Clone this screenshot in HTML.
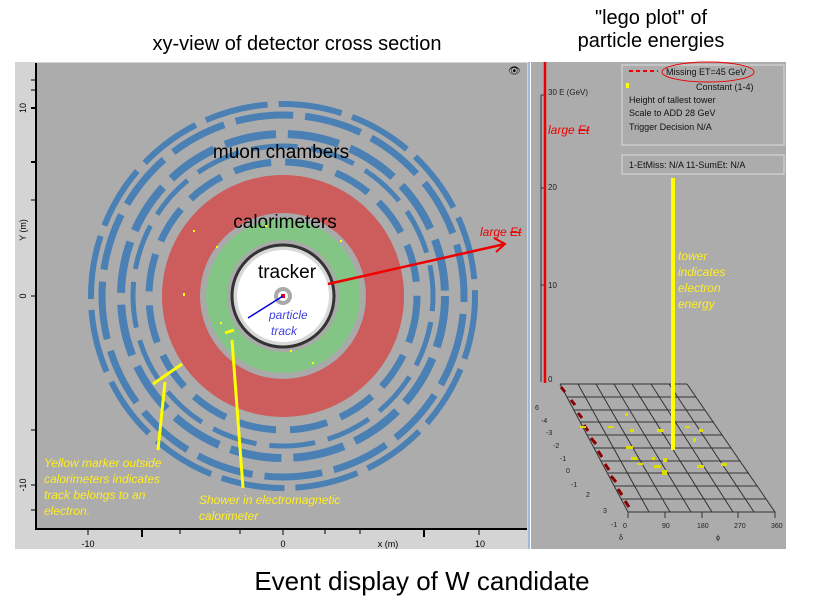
<!DOCTYPE html>
<html><head><style>
html,body{margin:0;padding:0;background:#fff;width:814px;height:604px;overflow:hidden}
svg text{font-family:"Liberation Sans",sans-serif}
</style></head><body>
<svg width="814" height="604" viewBox="0 0 814 604" xmlns="http://www.w3.org/2000/svg">
<text x="297" y="50" font-size="20" text-anchor="middle">xy-view of detector cross section</text>
<text x="651" y="24" font-size="20" text-anchor="middle">"lego plot" of</text>
<text x="651" y="47" font-size="20" text-anchor="middle">particle energies</text>
<text x="422" y="590" font-size="26" text-anchor="middle">Event display of W candidate</text>

<!-- left panel -->
<rect x="15" y="62" width="514" height="487" fill="#d4d4d4"/>
<rect x="36" y="63" width="491" height="466" fill="#acacac"/>
<line x1="36" y1="63" x2="36" y2="530" stroke="#000" stroke-width="2"/>
<line x1="36" y1="529" x2="527" y2="529" stroke="#000" stroke-width="2"/>
<g stroke="#000" stroke-width="1">
<line x1="31" y1="108" x2="36" y2="108" stroke-width="2"/><line x1="31" y1="162" x2="36" y2="162" stroke-width="2"/>
<line x1="31" y1="200" x2="36" y2="200"/><line x1="31" y1="296" x2="36" y2="296"/>
<line x1="31" y1="430" x2="36" y2="430"/><line x1="31" y1="485" x2="36" y2="485"/>
<line x1="31" y1="80" x2="36" y2="80"/><line x1="31" y1="90" x2="36" y2="90"/><line x1="31" y1="510" x2="36" y2="510"/>
<line x1="88" y1="529" x2="88" y2="535"/><line x1="142" y1="529" x2="142" y2="537" stroke-width="2"/>
<line x1="283" y1="529" x2="283" y2="535"/><line x1="424" y1="529" x2="424" y2="537" stroke-width="2"/>
<line x1="479" y1="529" x2="479" y2="535"/><line x1="325" y1="529" x2="325" y2="534"/><line x1="360" y1="529" x2="360" y2="534"/>
<line x1="240" y1="529" x2="240" y2="534"/><line x1="180" y1="529" x2="180" y2="534"/>
</g>
<g font-size="9" fill="#000">
<text x="26" y="108" transform="rotate(-90 26 108)" text-anchor="middle">10</text>
<text x="26" y="296" transform="rotate(-90 26 296)" text-anchor="middle">0</text>
<text x="26" y="230" transform="rotate(-90 26 230)" text-anchor="middle">Y (m)</text>
<text x="26" y="485" transform="rotate(-90 26 485)" text-anchor="middle">-10</text>
<text x="88" y="547" text-anchor="middle">-10</text>
<text x="283" y="547" text-anchor="middle">0</text>
<text x="388" y="547" text-anchor="middle">x (m)</text>
<text x="480" y="547" text-anchor="middle">10</text>
</g>
<!-- muon chambers -->
<g fill="none" stroke="#4a80b4">
<circle cx="283" cy="296" r="192" stroke-width="6" stroke-dasharray="64 11"/>
<circle cx="283" cy="296" r="181" stroke-width="7" stroke-dasharray="58 12" transform="rotate(11 283 296)"/>
<circle cx="283" cy="296" r="162" stroke-width="8" stroke-dasharray="52 12"/>
<circle cx="283" cy="296" r="150" stroke-width="5" stroke-dasharray="46 13" transform="rotate(10 283 296)"/>
<circle cx="283" cy="296" r="134" stroke-width="7" stroke-dasharray="38 14" transform="rotate(4 283 296)"/>
</g>
<!-- calorimeters -->
<circle cx="283" cy="296" r="121" fill="#cd5c5c"/>
<circle cx="283" cy="296" r="83" fill="#a9a9a9"/>
<circle cx="283" cy="296" r="77" fill="#82c584"/>
<circle cx="283" cy="296" r="56" fill="#a9a9a9"/>
<circle cx="283" cy="296" r="51" fill="#d8d8d8" stroke="#333" stroke-width="3"/>
<circle cx="283" cy="296" r="46" fill="#fff"/>
<circle cx="283" cy="296" r="7" fill="none" stroke="#aaa" stroke-width="4"/>
<rect x="281" y="294" width="4" height="4" fill="#f00"/>
<line x1="283" y1="296" x2="248" y2="318" stroke="#0000dd" stroke-width="1.5"/>
<text x="269" y="319" font-size="12" font-style="italic" fill="#4040dd">particle</text>
<text x="271" y="335" font-size="12" font-style="italic" fill="#4040dd">track</text>
<text x="281" y="158" font-size="19" text-anchor="middle">muon chambers</text>
<text x="285" y="228" font-size="19" text-anchor="middle">calorimeters</text>
<text x="287" y="278" font-size="19" text-anchor="middle">tracker</text>
<!-- missing ET arrow -->
<line x1="328" y1="284" x2="505" y2="244" stroke="#e00" stroke-width="2.5"/>
<polyline points="494,238 505,244 496,252" fill="none" stroke="#e00" stroke-width="2"/>
<text x="480" y="236" font-size="12" font-style="italic" fill="#e00">large <tspan text-decoration="line-through">Et</tspan></text>
<!-- yellow markers -->
<g stroke="#ff0" stroke-width="3" fill="none">
<line x1="153" y1="384" x2="182" y2="364"/>
<line x1="165" y1="382" x2="158" y2="450"/>
<line x1="225" y1="333" x2="234" y2="330"/>
<line x1="232" y1="340" x2="243" y2="488"/>
</g>
<g fill="#ff0"><rect x="193" y="230" width="2" height="2"/><rect x="183" y="293" width="2" height="3"/><rect x="216" y="246" width="2" height="2"/><rect x="265" y="225" width="2" height="2"/><rect x="340" y="240" width="2" height="2"/><rect x="290" y="350" width="2" height="2"/><rect x="312" y="362" width="2" height="2"/><rect x="220" y="322" width="2" height="2"/></g>
<g font-size="12" font-style="italic" fill="#ffee22">
<text x="44" y="467">Yellow marker outside</text>
<text x="44" y="483">calorimeters indicates</text>
<text x="44" y="499">track belongs to an</text>
<text x="44" y="515">electron.</text>
<text x="199" y="504">Shower in electromagnetic</text>
<text x="199" y="520">calorimeter</text>
</g>
<text x="508" y="74" font-size="10">👁</text>
<line x1="529" y1="62" x2="529" y2="549" stroke="#a0b8d8" stroke-width="2"/>

<!-- right panel -->
<rect x="531" y="62" width="255" height="487" fill="#acacac"/>
<line x1="541" y1="95" x2="541" y2="382" stroke="#333" stroke-width="1"/>
<line x1="541" y1="95" x2="546" y2="95" stroke="#333"/><line x1="541" y1="188" x2="546" y2="188" stroke="#333"/><line x1="541" y1="285" x2="546" y2="285" stroke="#333"/>
<line x1="545" y1="62" x2="545" y2="383" stroke="#e00" stroke-width="2.5"/>
<g font-size="8" fill="#222"><text x="548" y="95">30 E  (GeV)</text><text x="548" y="190">20</text><text x="548" y="288">10</text><text x="548" y="382">0</text></g>
<text x="548" y="134" font-size="12" font-style="italic" fill="#e00">large <tspan text-decoration="line-through">Et</tspan></text>
<rect x="622" y="65" width="162" height="80" fill="none" stroke="#ccc" stroke-width="1.5"/>
<rect x="622" y="155" width="162" height="19" fill="none" stroke="#ccc" stroke-width="1.5"/>
<line x1="629" y1="71" x2="658" y2="71" stroke="#e00" stroke-width="2" stroke-dasharray="4 3"/>
<ellipse cx="708" cy="72" rx="46" ry="10" fill="none" stroke="#e00" stroke-width="1"/>
<rect x="626" y="83" width="3" height="5" fill="#ff0"/>
<g font-size="9" fill="#111">
<text x="666" y="75">Missing ET=45 GeV</text>
<text x="696" y="90">Constant (1-4)</text>
<text x="629" y="103">Height of tallest tower</text>
<text x="629" y="116">Scale to ADD 28 GeV</text>
<text x="629" y="130">Trigger Decision N/A</text>
<text x="629" y="168">1-EtMiss: N/A 11-SumEt: N/A</text>
</g>
<!-- lego grid -->
<g stroke="#333" stroke-width="1">
<line x1="560" y1="384" x2="687" y2="384"/><line x1="567" y1="397" x2="696" y2="397"/><line x1="574" y1="410" x2="705" y2="410"/><line x1="581" y1="422" x2="714" y2="422"/><line x1="587" y1="435" x2="722" y2="435"/><line x1="594" y1="448" x2="731" y2="448"/><line x1="601" y1="461" x2="740" y2="461"/><line x1="608" y1="473" x2="749" y2="473"/><line x1="614" y1="486" x2="757" y2="486"/><line x1="621" y1="499" x2="766" y2="499"/><line x1="628" y1="512" x2="775" y2="512"/>
<line x1="560" y1="384" x2="628" y2="512"/><line x1="578" y1="384" x2="649" y2="512"/><line x1="596" y1="384" x2="670" y2="512"/><line x1="614" y1="384" x2="691" y2="512"/><line x1="632" y1="384" x2="712" y2="512"/><line x1="651" y1="384" x2="733" y2="512"/><line x1="669" y1="384" x2="754" y2="512"/><line x1="687" y1="384" x2="775" y2="512"/>
<line x1="628" y1="512" x2="628" y2="518"/><line x1="665" y1="512" x2="665" y2="518"/><line x1="702" y1="512" x2="702" y2="518"/><line x1="738" y1="512" x2="738" y2="518"/><line x1="775" y1="512" x2="775" y2="518"/>
</g>
<g stroke="#8b0000" stroke-width="3">
<line x1="561" y1="387" x2="565" y2="392"/><line x1="571" y1="400" x2="575" y2="405"/><line x1="578" y1="413" x2="582" y2="418"/><line x1="584" y1="425" x2="588" y2="431"/><line x1="591" y1="438" x2="596" y2="444"/><line x1="598" y1="451" x2="602" y2="457"/><line x1="605" y1="464" x2="609" y2="470"/><line x1="611" y1="476" x2="616" y2="482"/><line x1="618" y1="489" x2="622" y2="495"/><line x1="625" y1="501" x2="629" y2="507"/>
</g>
<line x1="673" y1="178" x2="673" y2="450" stroke="#ff0" stroke-width="4"/>
<g fill="#dddd00"><rect x="625" y="413" width="3" height="3"/><rect x="580" y="426" width="6" height="2"/><rect x="608" y="426" width="6" height="2"/><rect x="630" y="429" width="4" height="3"/><rect x="657" y="429" width="7" height="3"/><rect x="685" y="426" width="5" height="2"/><rect x="699" y="429" width="4" height="3"/><rect x="626" y="446" width="7" height="3"/><rect x="693" y="438" width="3" height="4"/><rect x="631" y="457" width="6" height="3"/><rect x="637" y="463" width="6" height="2"/><rect x="652" y="457" width="3" height="3"/><rect x="654" y="465" width="7" height="3"/><rect x="663" y="458" width="4" height="4"/><rect x="662" y="470" width="5" height="5"/><rect x="697" y="465" width="7" height="3"/><rect x="721" y="463" width="6" height="3"/></g>
<g font-size="7" fill="#222"><text x="535" y="410">6</text><text x="541" y="423">-4</text><text x="546" y="435">-3</text><text x="553" y="448">-2</text><text x="560" y="461">-1</text><text x="566" y="473">0</text><text x="571" y="487">-1</text><text x="586" y="497">2</text><text x="603" y="513">3</text><text x="611" y="527">-1</text><text x="623" y="528">0</text><text x="662" y="528">90</text><text x="697" y="528">180</text><text x="734" y="528">270</text><text x="771" y="528">360</text><text x="619" y="540">δ</text><text x="716" y="540">ϕ</text></g>
<g font-size="12" font-style="italic" fill="#ffee22"><text x="678" y="260">tower</text><text x="678" y="276">indicates</text><text x="678" y="292">electron</text><text x="678" y="308">energy</text></g>
</svg>
</body></html>
